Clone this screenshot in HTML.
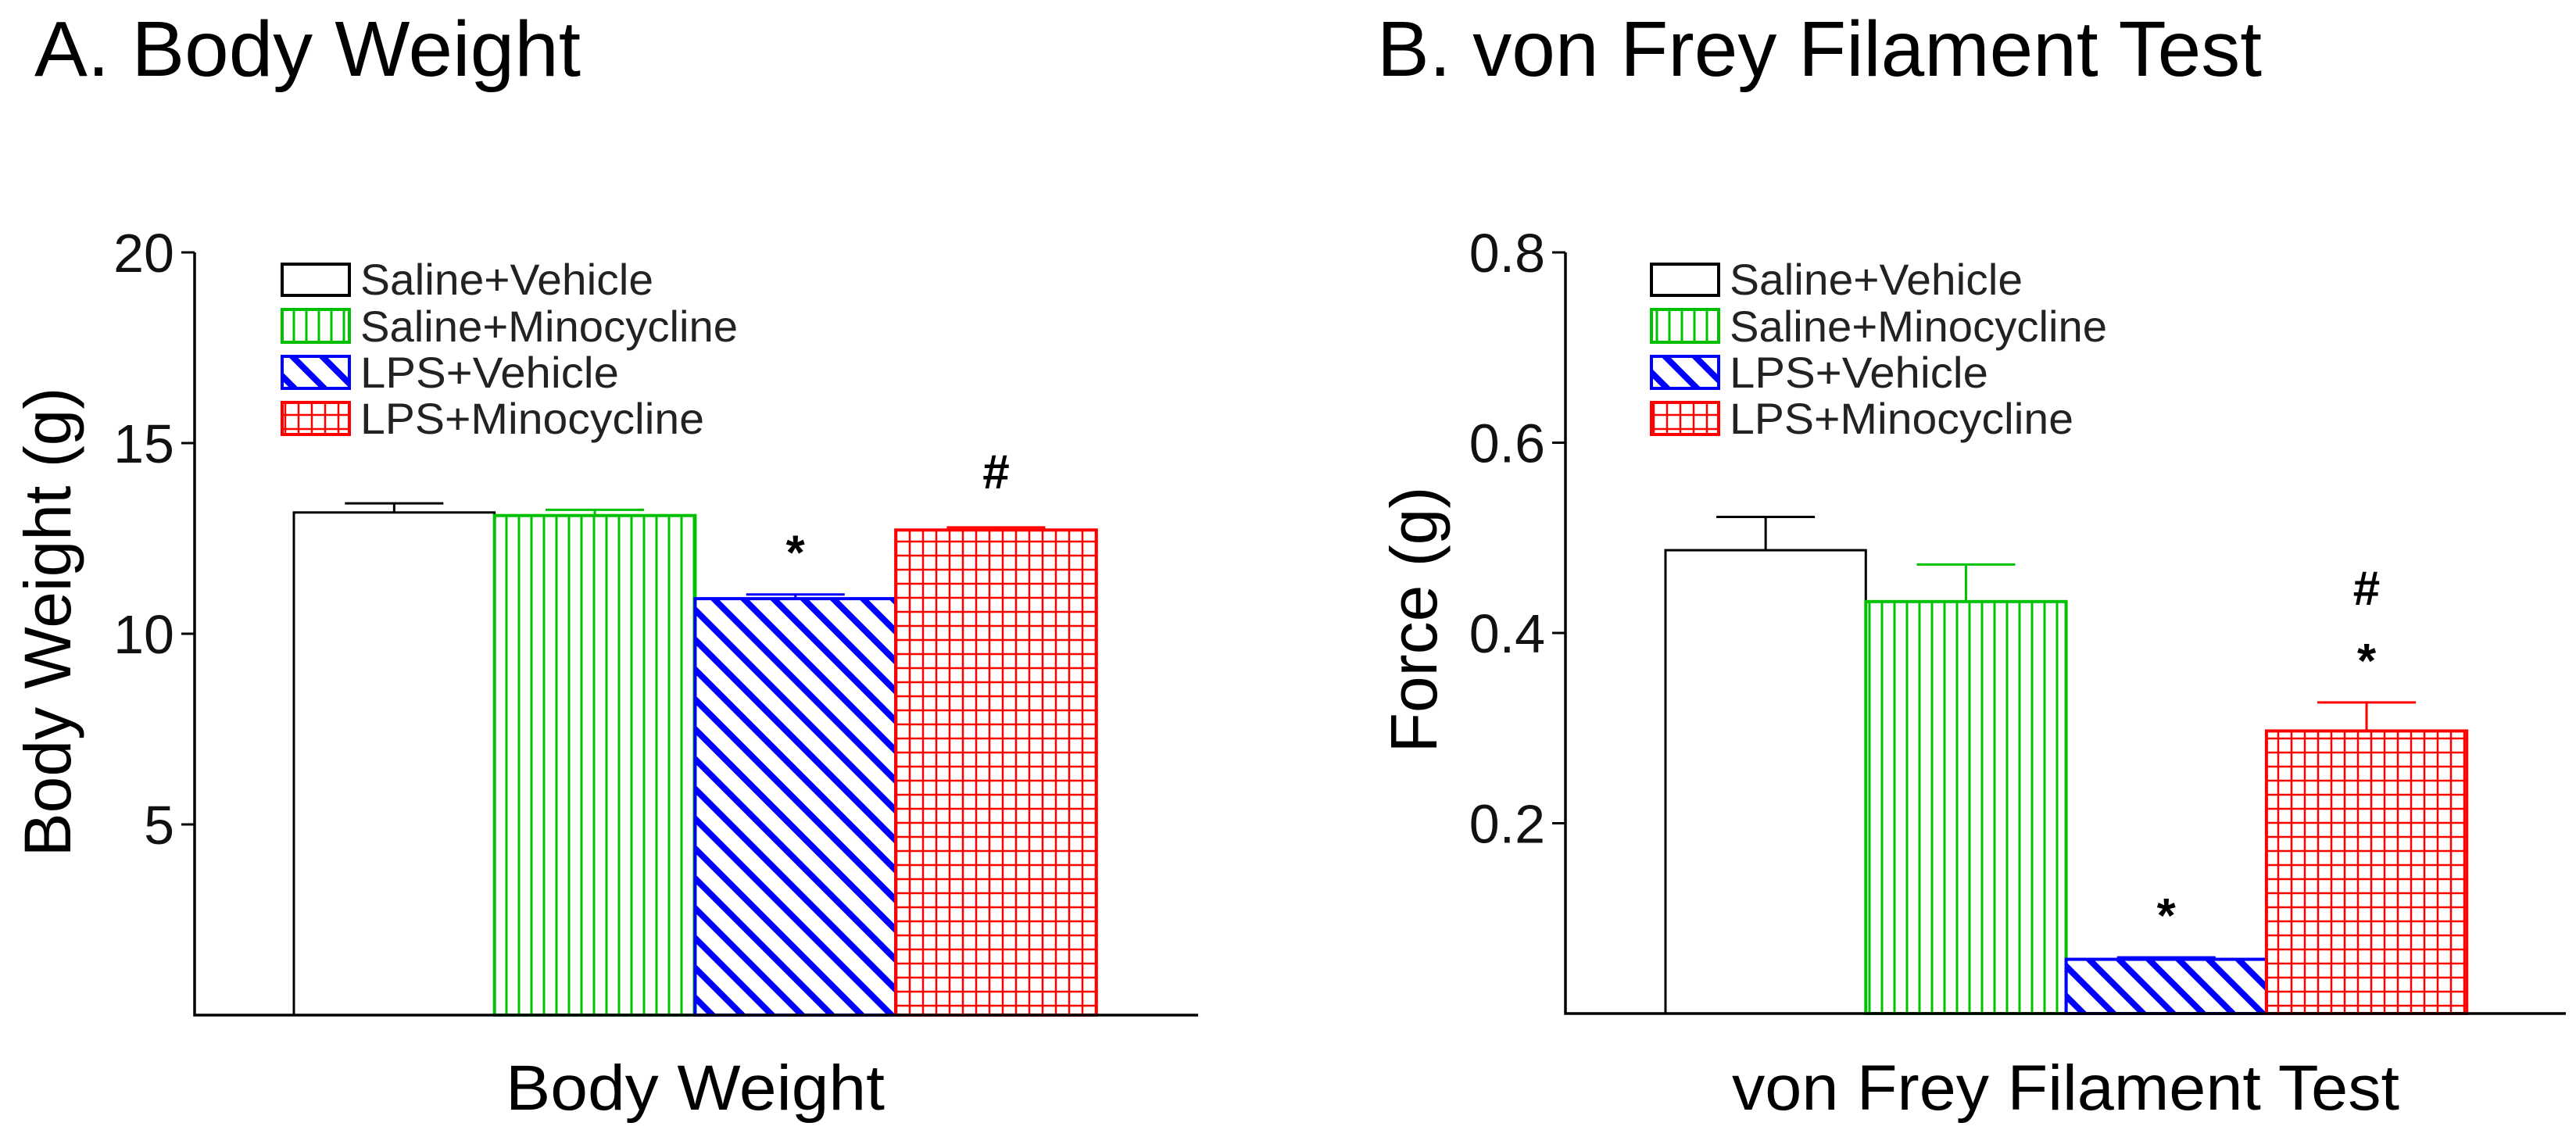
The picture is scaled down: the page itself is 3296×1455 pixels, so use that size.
<!DOCTYPE html>
<html><head><meta charset="utf-8"><style>
html,body{margin:0;padding:0;background:#fff;}
svg{display:block;font-family:"Liberation Sans",Arial,sans-serif;}
</style></head><body>
<svg id="fig" width="3296" height="1455" viewBox="0 0 3296 1455" xmlns="http://www.w3.org/2000/svg">
<defs>
<pattern id="pGreen" patternUnits="userSpaceOnUse" width="16" height="20"><line x1="8" y1="0" x2="8" y2="20" stroke="#00c000" stroke-width="3"/></pattern>
<pattern id="pBlue" patternUnits="userSpaceOnUse" width="27" height="27" patternTransform="rotate(45)"><rect x="0" y="0" width="27" height="8" fill="#0000ff"/></pattern>
<pattern id="pRed" patternUnits="userSpaceOnUse" width="17" height="18"><line x1="8" y1="0" x2="8" y2="18" stroke="#ff0000" stroke-width="2.5"/><line x1="0" y1="9" x2="17" y2="9" stroke="#ff0000" stroke-width="2.5"/></pattern>
</defs>
<g id="panelA"></g>
<g id="panelB"></g>
</svg>
<script>
const categories = ["Saline+Vehicle","Saline+Minocycline","LPS+Vehicle","LPS+Minocycline"];
const bodyWeight = [13.18, 13.1, 10.92, 12.72];
const bodyWeightErr = [0.24, 0.15, 0.11, 0.07];
const bodyWeightMarks = ["", "", "*", "#"];
const bodyTicks = [5, 10, 15, 20];
const force = [0.487, 0.433, 0.057, 0.297];
const forceErr = [0.035, 0.039, 0.002, 0.030];
const forceMarks = [[], [], ["*"], ["*", "#"]];
const forceTicks = [0.2, 0.4, 0.6, 0.8];
const forceTickLabels = ["0.2", "0.4", "0.6", "0.8"];

const NS = "http://www.w3.org/2000/svg";
const fills = ["#ffffff", "url(#pGreen)", "url(#pBlue)", "url(#pRed)"];
const strokes = ["#000000", "#00c000", "#0000ff", "#ff0000"];
const legendLens = [375, 483, 331, 440];
function mk(parent, tag, attrs, text) {
  const e = document.createElementNS(NS, tag);
  for (const k in attrs) e.setAttribute(k, attrs[k]);
  if (text !== undefined) e.textContent = text;
  parent.appendChild(e);
  return e;
}
function panel(g, cfg) {
  const yScale = v => cfg.base - (v - 0) / cfg.max * (cfg.base - cfg.top);
  const xBand = i => cfg.barStart + i * cfg.barW;
  let t = mk(g, "text", {x: cfg.titleX, y: 97, "font-size": 100, textLength: cfg.titleLen, lengthAdjust: "spacingAndGlyphs", fill: "#000"}, cfg.title);
  
  
  cfg.values.forEach((v, i) => {
    const x = xBand(i), y = yScale(v);
    const r = mk(g, "rect", {x: x, y: y, width: cfg.barW, height: cfg.base - y, fill: fills[i], stroke: strokes[i], "stroke-width": i === 0 ? 3 : 4});
    
    
    const ye = yScale(v + cfg.errs[i]);
    const cx = x + cfg.barW / 2;
    const eg = mk(g, "g", {stroke: strokes[i], "stroke-width": 3});
    
    
    mk(eg, "line", {x1: cx, y1: y, x2: cx, y2: ye});
    mk(eg, "line", {x1: cx - 63, y1: ye, x2: cx + 63, y2: ye});
    const marks = cfg.marks[i];
    marks.forEach((m, k) => {
      const my = m === "*" ? ye - 32 - k * 88 : ye - 50 - k * 75;
      const a = mk(g, "text", {x: cx, y: my, "font-size": 62, "text-anchor": "middle", fill: "#000", "font-weight": "bold"}, m);
      
      
    });
  });
  const ax = mk(g, "path", {d: `M${cfg.axisX},${cfg.top} V${cfg.base} H${cfg.axisEnd}`, fill: "none", stroke: "#000", "stroke-width": 3.5});
  
  
  cfg.ticks.forEach((tv, i) => {
    const y = yScale(tv);
    mk(g, "line", {x1: cfg.axisX - 17, y1: y, x2: cfg.axisX, y2: y, stroke: "#000", "stroke-width": 3});
    const tl = mk(g, "text", {x: cfg.axisX - 26, y: y + 25, "font-size": 70, "text-anchor": "end", fill: "#111"}, cfg.tickLabels[i]);
    
    
  });
  const yl = mk(g, "text", {x: 0, y: 0, "font-size": 84, "text-anchor": "middle", fill: "#000", transform: `translate(${cfg.ylabX},${cfg.ylabY}) rotate(-90)`}, cfg.ylab);
  
  
  const xl = mk(g, "text", {x: cfg.xlabX, y: 1420, "font-size": 82, textLength: cfg.xlabLen, lengthAdjust: "spacingAndGlyphs", fill: "#000"}, cfg.xlab);
  
  
  const rows = [[338, 378], [396, 438], [456, 497], [515, 556]];
  categories.forEach((c, i) => {
    const lg = mk(g, "g", {});
    
    
    mk(lg, "rect", {x: cfg.legX, y: rows[i][0], width: 86, height: rows[i][1] - rows[i][0], fill: fills[i], stroke: strokes[i], "stroke-width": 4});
    mk(lg, "text", {x: cfg.legX + 100, y: rows[i][1] - 1, "font-size": 56, textLength: legendLens[i], lengthAdjust: "spacingAndGlyphs", fill: "#222"}, c);
  });
}
panel(document.getElementById("panelA"), {
  title: "A. Body Weight", titleX: 44, titleLen: 699,
  values: bodyWeight, errs: bodyWeightErr, marks: bodyWeightMarks.map(m => m ? [m] : []),
  ticks: bodyTicks, tickLabels: bodyTicks.map(String), max: 20,
  top: 323, base: 1299, axisX: 249, axisEnd: 1533, barStart: 376, barW: 256.7,
  ylab: "Body Weight (g)", ylabX: 90, ylabY: 796,
  xlab: "Body Weight", xlabX: 647, xlabLen: 485, legX: 361
});
panel(document.getElementById("panelB"), {
  title: "B. von Frey Filament Test", titleX: 1762, titleLen: 1132,
  values: force, errs: forceErr, marks: forceMarks,
  ticks: forceTicks, tickLabels: forceTickLabels, max: 0.8,
  top: 323, base: 1297, axisX: 2003, axisEnd: 3283, barStart: 2131, barW: 256.3,
  ylab: "Force (g)", ylabX: 1838, ylabY: 793,
  xlab: "von Frey Filament Test", xlabX: 2216, xlabLen: 854, legX: 2113
});
</script>
</body></html>
